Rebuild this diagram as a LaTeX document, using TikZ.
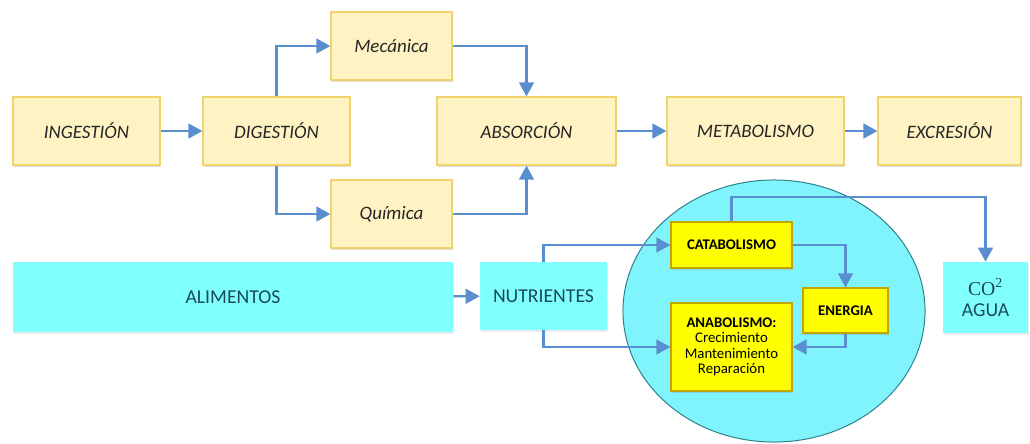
\documentclass[tikz,border=0pt]{standalone}
\usepackage{fontspec}
\setmainfont{Carlito}
\newfontfamily\cofont{Liberation Serif}
\usetikzlibrary{arrows.meta,shadows,shapes.geometric}
\definecolor{paleyel}{HTML}{FFF3C4}
\definecolor{paleedge}{HTML}{F0D36A}
\definecolor{aqua}{HTML}{80FFFF}
\definecolor{cellfill}{HTML}{80F4FC}
\definecolor{celledge}{HTML}{2E7F8C}
\definecolor{brightyel}{HTML}{FFFF00}
\definecolor{yeledge}{HTML}{C2A600}
\definecolor{arrowblue}{HTML}{5A8FCF}
\definecolor{txtdark}{HTML}{262626}
\definecolor{txtteal}{HTML}{1B4A57}
\begin{document}
\begin{tikzpicture}[x=0.025cm, y=-0.025cm,
	etapa/.style={draw=paleedge, fill=paleyel, line width=0.8pt, inner sep=0pt, text=txtdark,
		font=\fontsize{13.5}{16}\selectfont\itshape, minimum height=1.7cm,
		drop shadow={shadow xshift=0.6pt, shadow yshift=-1.4pt, opacity=0.25}},
	nutr/.style={fill=aqua, inner sep=0pt, text=txtteal, font=\fontsize{14}{15}\selectfont,
		drop shadow={shadow xshift=0.6pt, shadow yshift=-1.4pt, opacity=0.15}},
	ruta/.style={draw=yeledge, fill=brightyel, line width=0.8pt, inner sep=0pt, text=black,
		font=\fontsize{10.5}{11}\selectfont\bfseries,
		drop shadow={shadow xshift=0.6pt, shadow yshift=-1.2pt, opacity=0.25}},
	flecha/.style={draw=arrowblue, line width=1.6pt, -{Triangle[length=10pt,width=10.5pt]}}]
	\useasboundingbox (0,0) rectangle (1030,443);
	% etapas de la nutricion
	\node[etapa, minimum width=3.675cm] (ingest) at (86.5,131) {INGESTIÓN};
	\node[etapa, minimum width=3.675cm] (digest) at (276.5,131) {DIGESTIÓN};
	\node[etapa, minimum width=3.025cm] (mec) at (391.5,46) {Mecánica};
	\node[etapa, minimum width=3.025cm] (quim) at (391.5,214) {Química};
	\node[etapa, minimum width=4.475cm] (absor) at (526.5,131) {ABSORCIÓN};
	\node[etapa, minimum width=4.425cm] (metab) at (755.5,131) {METABOLISMO};
	\node[etapa, minimum width=3.575cm] (excr) at (949.5,131) {EXCRESIÓN};
	\draw[flecha] (ingest) -- (digest);
	\draw[flecha] (digest.north) |- (mec.west);
	\draw[flecha] (digest.south) |- (quim.west);
	\draw[flecha] (mec.east) -| (absor.north);
	\draw[flecha] (quim.east) -| (absor.south);
	\draw[flecha] (absor) -- (metab);
	\draw[flecha] (metab) -- (excr);
	% metabolismo celular
	\node[draw=celledge, fill=cellfill, ellipse, line width=0.7pt, inner sep=0pt,
		minimum width=7.55cm, minimum height=6.55cm] (celula) at (774,311) {};
	\node[nutr, minimum width=11cm, minimum height=1.75cm] (alim) at (233,297) {ALIMENTOS};
	\node[nutr, minimum width=3.175cm, minimum height=1.7cm] (nutri) at (543.5,296) {NUTRIENTES};
	\node[nutr, minimum width=2.125cm, minimum height=1.775cm, align=center] (co2) at (985.5,297.5)
		{{\cofont CO\textsuperscript{2}}\\AGUA};
	\node[ruta, minimum width=3.025cm, minimum height=1.15cm] (catab) at (731.5,245) {CATABOLISMO};
	\node[ruta, minimum width=2.125cm, minimum height=1.125cm] (energ) at (845.5,310.5) {ENERGIA};
	\node[ruta, minimum width=3.025cm, minimum height=2.2cm, align=center] (anab) at (731.5,347)
		{ANABOLISMO:\\\mdseries Crecimiento\\\mdseries Mantenimiento\\\mdseries Reparación};
	\coordinate (salida) at (985.5,197);
	\draw[flecha] (alim) -- (nutri);
	\draw[flecha] (nutri.north) |- (catab.west);
	\draw[flecha] (nutri.south) |- (anab.west);
	\draw[flecha] (catab.east) -| (energ.north);
	\draw[flecha] (energ.south) |- (anab.east);
	\draw[flecha] (catab.north) |- (salida) -- (co2.north);
\end{tikzpicture}
\end{document}
